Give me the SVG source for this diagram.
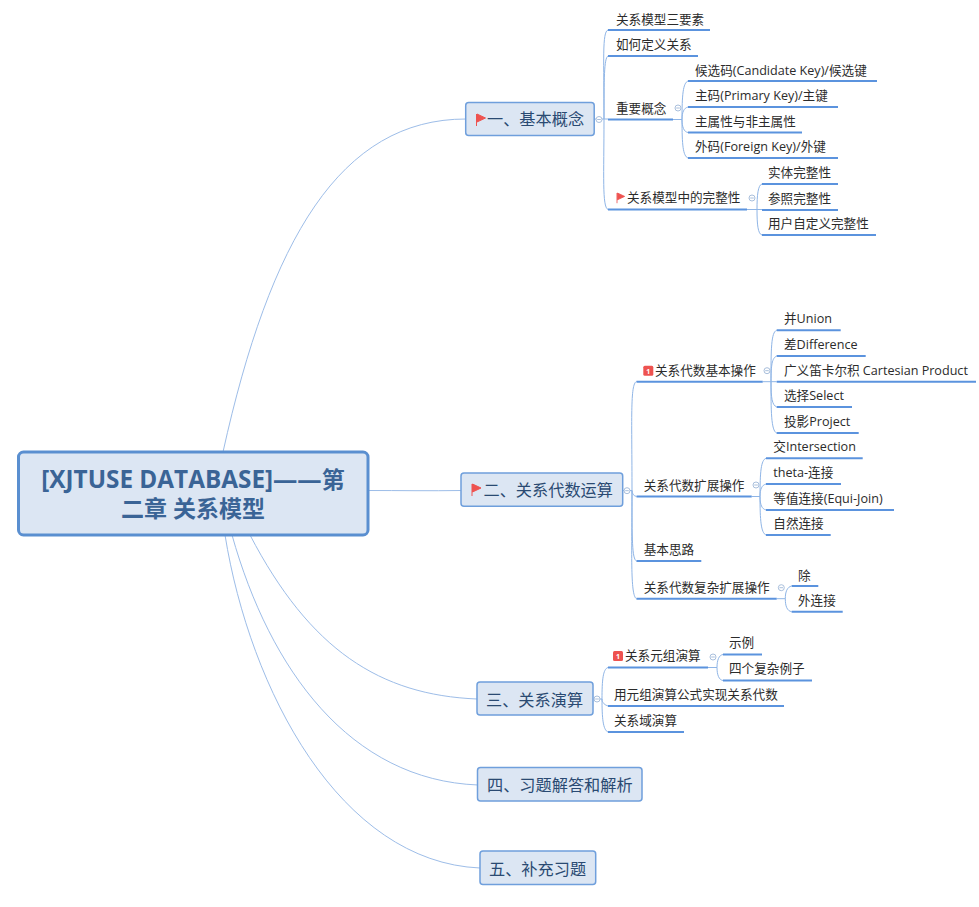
<svg xmlns="http://www.w3.org/2000/svg" width="979" height="907" viewBox="0 0 979 907">
<style>
text{font-family:"Open Sans","Noto Sans CJK SC",sans-serif;}
.t{font-size:12.6px;fill:#2b2b2b;}
.m{font-size:16.2px;fill:#2a4a72;}
.root{font-size:23px;font-weight:700;fill:#3a6496;text-anchor:middle;}
.box{fill:#dce6f3;stroke:#6f9fdc;stroke-width:1.5;}
.rbox{fill:#dce6f3;stroke:#5a8fd0;stroke-width:3;}
.u{stroke:#5b93de;stroke-width:2;fill:none;}
.c{stroke:#9dbde8;stroke-width:1;fill:none;}
.b{stroke:#8fb5e6;stroke-width:1;fill:none;}
.col{fill:#fff;stroke:#a9bfdc;stroke-width:1;}
.bd{fill:#ee5350;}
.bt{font-size:7px;font-weight:700;fill:#fff;text-anchor:middle;}
</style>
<defs>
<path id="fl" d="M0 0V12M0.500 0L9 4L0.500 8Z" stroke="#ee5350" stroke-width="1" fill="#ee5350"/>
<g id="cl"><circle class="col" r="3"/><path d="M-1.800 0H1.800" stroke="#a9bfdc" stroke-width="1"/></g>
</defs>
<g id="connectors">
<path class="c" d="M223 452C270 240 340 119 466 119"/>
<path class="c" d="M368 490.500C400 490.500 430 491 462 490.500"/>
<path class="c" d="M250 535C310 650 380 695 477 699"/>
<path class="c" d="M232 535C270 670 350 780 478 785"/>
<path class="c" d="M225 535C250 690 340 862 480 868"/>
<path class="b" d="M594 119H604M608 30C602 32 604 60 604 119C604 175 602 207 608 209.500M608 56C604 58 604 80 604 119M604 119H608"/>
<path class="b" d="M673 119.500H682M688 81C683 83 682 95 682 119.500C682 145 683 156 688 158M688 107C684 108 682 112 682 119.500M688 132.500C684 132 682 127 682 119.500"/>
<path class="b" d="M747 209.500H757M762 184C758 185 757 195 757 209.500C757 225 758 234 762 235M757 209.500H762"/>
<path class="b" d="M622 490.500H632M636.500 381.500C630 384 632 420 632 490.500C632 550 630 596 636.500 598.700M636.500 496.500C634 496 632 494 632 490.500M636.500 561C632 559 632 540 632 490.500"/>
<path class="b" d="M762.700 381.700H771M776.700 330.300C771 332 771 350 771 381.700C771 410 771 431 776.700 433M776.700 356C772 358 771 365 771 381.700M771 381.700H776.700M776.700 407C772 405 771 398 771 381.700"/>
<path class="b" d="M751.700 496.500H760M766 458.300C761 460 760 472 760 496.500C760 520 761 533 766 535M766 484C762 485 760 489 760 496.500M766 510C762 509 760 505 760 496.500"/>
<path class="b" d="M776.700 598.700H785.300M791.700 586C787 587 785.300 592 785.300 598.700C785.300 606 787 611 791.700 611.700"/>
<path class="b" d="M592 699H602M608 667.500C603 669 602 680 602 699C602 718 603 730 608 732M608 706C605 705 602 703 602 699"/>
<path class="b" d="M708 667.500H717M723 654.500C719 655 717 660 717 667.500C717 675 719 680 723 680.500"/>
</g>
<g id="root"><rect class="rbox" x="18.500" y="452" width="349.500" height="83" rx="5"/><text class="root" x="193" y="488"><tspan font-size="24.300">[XJTUSE DATABASE]——</tspan>第</text><text class="root" x="193" y="517">二章 关系模型</text></g>
<g id="n1"><rect class="box" x="465.700" y="102.500" width="128.500" height="33" rx="3"/><use href="#fl" x="476.500" y="114"/><text class="m" x="487" y="125">一、基本概念</text><use href="#cl" x="599" y="119.500"/></g>
<g id="n1-1"><text class="t" x="616" y="24">关系模型三要素</text><path class="u" d="M608 30H710"/></g>
<g id="n1-2"><text class="t" x="616" y="49">如何定义关系</text><path class="u" d="M608 56H698"/></g>
<g id="n1-3"><text class="t" x="616" y="113">重要概念</text><path class="u" d="M608 119.500H673"/><use href="#cl" x="678" y="108"/></g>
<g id="n1-3-1"><text class="t" x="695" y="75">候选码(Candidate Key)/候选键</text><path class="u" d="M688 81H877"/></g>
<g id="n1-3-2"><text class="t" x="695" y="100">主码(Primary Key)/主键</text><path class="u" d="M688 107H838"/></g>
<g id="n1-3-3"><text class="t" x="695" y="126">主属性与非主属性</text><path class="u" d="M688 132.500H802"/></g>
<g id="n1-3-4"><text class="t" x="695" y="151">外码(Foreign Key)/外键</text><path class="u" d="M688 158H838"/></g>
<g id="n1-4"><use href="#fl" transform="translate(617 193) scale(.85)"/><text class="t" x="627" y="202">关系模型中的完整性</text><path class="u" d="M608 209.500H747"/><use href="#cl" x="752" y="198"/></g>
<g id="n1-4-1"><text class="t" x="768" y="177">实体完整性</text><path class="u" d="M762 184H838"/></g>
<g id="n1-4-2"><text class="t" x="768" y="203">参照完整性</text><path class="u" d="M762 210H838"/></g>
<g id="n1-4-3"><text class="t" x="768" y="228">用户自定义完整性</text><path class="u" d="M762 235H876"/></g>
<g id="n2"><rect class="box" x="461" y="473" width="161.700" height="33.300" rx="3"/><use href="#fl" x="472" y="484"/><text class="m" x="483.500" y="496">二、关系代数运算</text><use href="#cl" x="627" y="490.700"/></g>
<g id="n2-1"><rect class="bd" x="643.300" y="365.700" width="10" height="10" rx="1.500"/><text class="bt" x="648.300" y="373.500">1</text><text class="t" x="655" y="375">关系代数基本操作</text><path class="u" d="M636.500 381.700H762.700"/><use href="#cl" x="767" y="370.700"/></g>
<g id="n2-1-1"><text class="t" x="784" y="323">并Union</text><path class="u" d="M776.700 330.300H840.700"/></g>
<g id="n2-1-2"><text class="t" x="784" y="349">差Difference</text><path class="u" d="M776.700 356H865.700"/></g>
<g id="n2-1-3"><text class="t" x="784" y="375">广义笛卡尔积 Cartesian Product</text><path class="u" d="M776.700 381.700H976"/></g>
<g id="n2-1-4"><text class="t" x="784" y="400">选择Select</text><path class="u" d="M776.700 407H852"/></g>
<g id="n2-1-5"><text class="t" x="784" y="426">投影Project</text><path class="u" d="M776.700 433H858.700"/></g>
<g id="n2-2"><text class="t" x="643.700" y="490">关系代数扩展操作</text><path class="u" d="M636.500 496.500H751.700"/><use href="#cl" x="756" y="485"/></g>
<g id="n2-2-1"><text class="t" x="773.300" y="451">交Intersection</text><path class="u" d="M766 458.300H862.700"/></g>
<g id="n2-2-2"><text class="t" x="773.300" y="477">theta-连接</text><path class="u" d="M766 484H841"/></g>
<g id="n2-2-3"><text class="t" x="773.300" y="503">等值连接(Equi-Join)</text><path class="u" d="M766 510H894"/></g>
<g id="n2-2-4"><text class="t" x="773.300" y="528">自然连接</text><path class="u" d="M766 535H830.700"/></g>
<g id="n2-3"><text class="t" x="643.700" y="554">基本思路</text><path class="u" d="M636.500 561H701.300"/></g>
<g id="n2-4"><text class="t" x="643.700" y="592">关系代数复杂扩展操作</text><path class="u" d="M636.500 598.700H776.700"/><use href="#cl" x="781.300" y="587.700"/></g>
<g id="n2-4-1"><text class="t" x="798" y="580">除</text><path class="u" d="M791.700 586H818.300"/></g>
<g id="n2-4-2"><text class="t" x="798" y="605">外连接</text><path class="u" d="M791.700 611.700H842.700"/></g>
<g id="n3"><rect class="box" x="477" y="682" width="116" height="33" rx="3"/><text class="m" x="486" y="706">三、关系演算</text><use href="#cl" x="597" y="699"/></g>
<g id="n3-1"><rect class="bd" x="613" y="651" width="10" height="10" rx="1.500"/><text class="bt" x="618" y="659">1</text><text class="t" x="625" y="660">关系元组演算</text><path class="u" d="M608 667.500H708"/><use href="#cl" x="713" y="657"/></g>
<g id="n3-1-1"><text class="t" x="729" y="647">示例</text><path class="u" d="M723 654.500H762"/></g>
<g id="n3-1-2"><text class="t" x="729" y="673">四个复杂例子</text><path class="u" d="M723 680.500H812"/></g>
<g id="n3-2"><text class="t" x="614" y="699">用元组演算公式实现关系代数</text><path class="u" d="M608 706H784"/></g>
<g id="n3-3"><text class="t" x="614" y="725">关系域演算</text><path class="u" d="M608 732H684"/></g>
<g id="n4"><rect class="box" x="477.500" y="767.500" width="164.500" height="33.500" rx="3"/><text class="m" x="487" y="791">四、习题解答和解析</text></g>
<g id="n5"><rect class="box" x="480" y="851" width="115.700" height="33.500" rx="3"/><text class="m" x="489" y="875">五、补充习题</text></g>
</svg>
